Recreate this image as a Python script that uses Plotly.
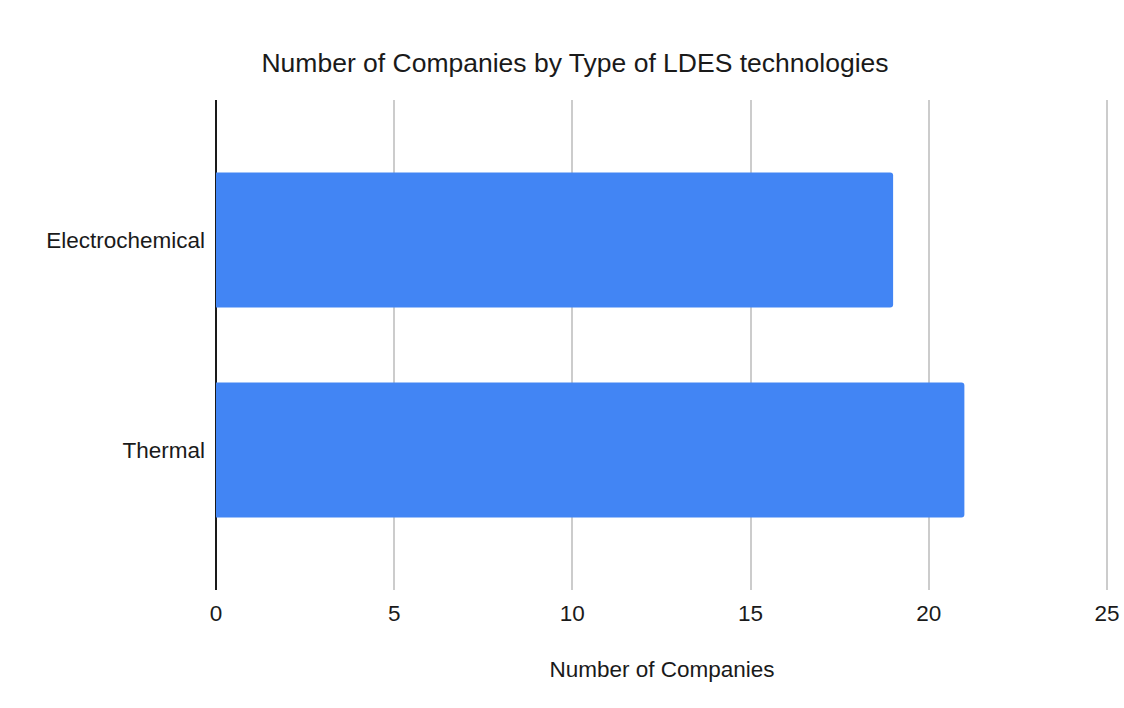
import plotly.graph_objects as go

# Company counts per LDES technology type
categories = ["Electrochemical", "Thermal"]
companies = [19, 21]
x_ticks = [0, 5, 10, 15, 20, 25]

FONT = "Liberation Sans, Arial, sans-serif"
TEXT = "#1a1a1a"

fig = go.Figure(
    go.Bar(
        x=companies,
        y=categories,
        orientation="h",
        width=0.643,
        marker=dict(color="#4285F4", line=dict(width=0), cornerradius=3),
        hoverinfo="x+y",
    )
)

fig.update_layout(
    width=1124,
    height=708,
    margin=dict(l=216, r=16, t=100, b=118, autoexpand=False),
    paper_bgcolor="white",
    plot_bgcolor="white",
    showlegend=False,
    font=dict(family=FONT, color=TEXT),
    title=dict(
        text="Number of Companies by Type of LDES technologies",
        font=dict(family=FONT, size=26.5, color=TEXT),
        x=575 / 1124,
        xref="container",
        xanchor="center",
        y=1 - 63 / 708,
        yref="container",
        yanchor="middle",
    ),
    xaxis=dict(
        # a hair past the last tick so its gridline is still drawn
        range=[0, x_ticks[-1] * 1.0012],
        tickvals=x_ticks,
        ticktext=[str(v) for v in x_ticks],
        tickfont=dict(family=FONT, size=22.5, color=TEXT),
        showgrid=True,
        gridcolor="#cccccc",
        gridwidth=1.5,
        zeroline=True,
        zerolinecolor="#1a1a1a",
        zerolinewidth=1.5,
        showline=False,
        ticks="",
        ticklabelstandoff=7,
        automargin=False,
        title=dict(
            text="Number of Companies",
            font=dict(family=FONT, size=22.5, color=TEXT),
            standoff=36,
        ),
        fixedrange=True,
    ),
    yaxis=dict(
        type="category",
        categoryorder="array",
        categoryarray=categories,
        range=[1.667, -0.667],
        tickfont=dict(family=FONT, size=22.5, color=TEXT),
        showgrid=False,
        zeroline=False,
        showline=False,
        ticks="",
        ticklabelstandoff=10,
        automargin=False,
        fixedrange=True,
    ),
)

fig.write_html("out.html")
